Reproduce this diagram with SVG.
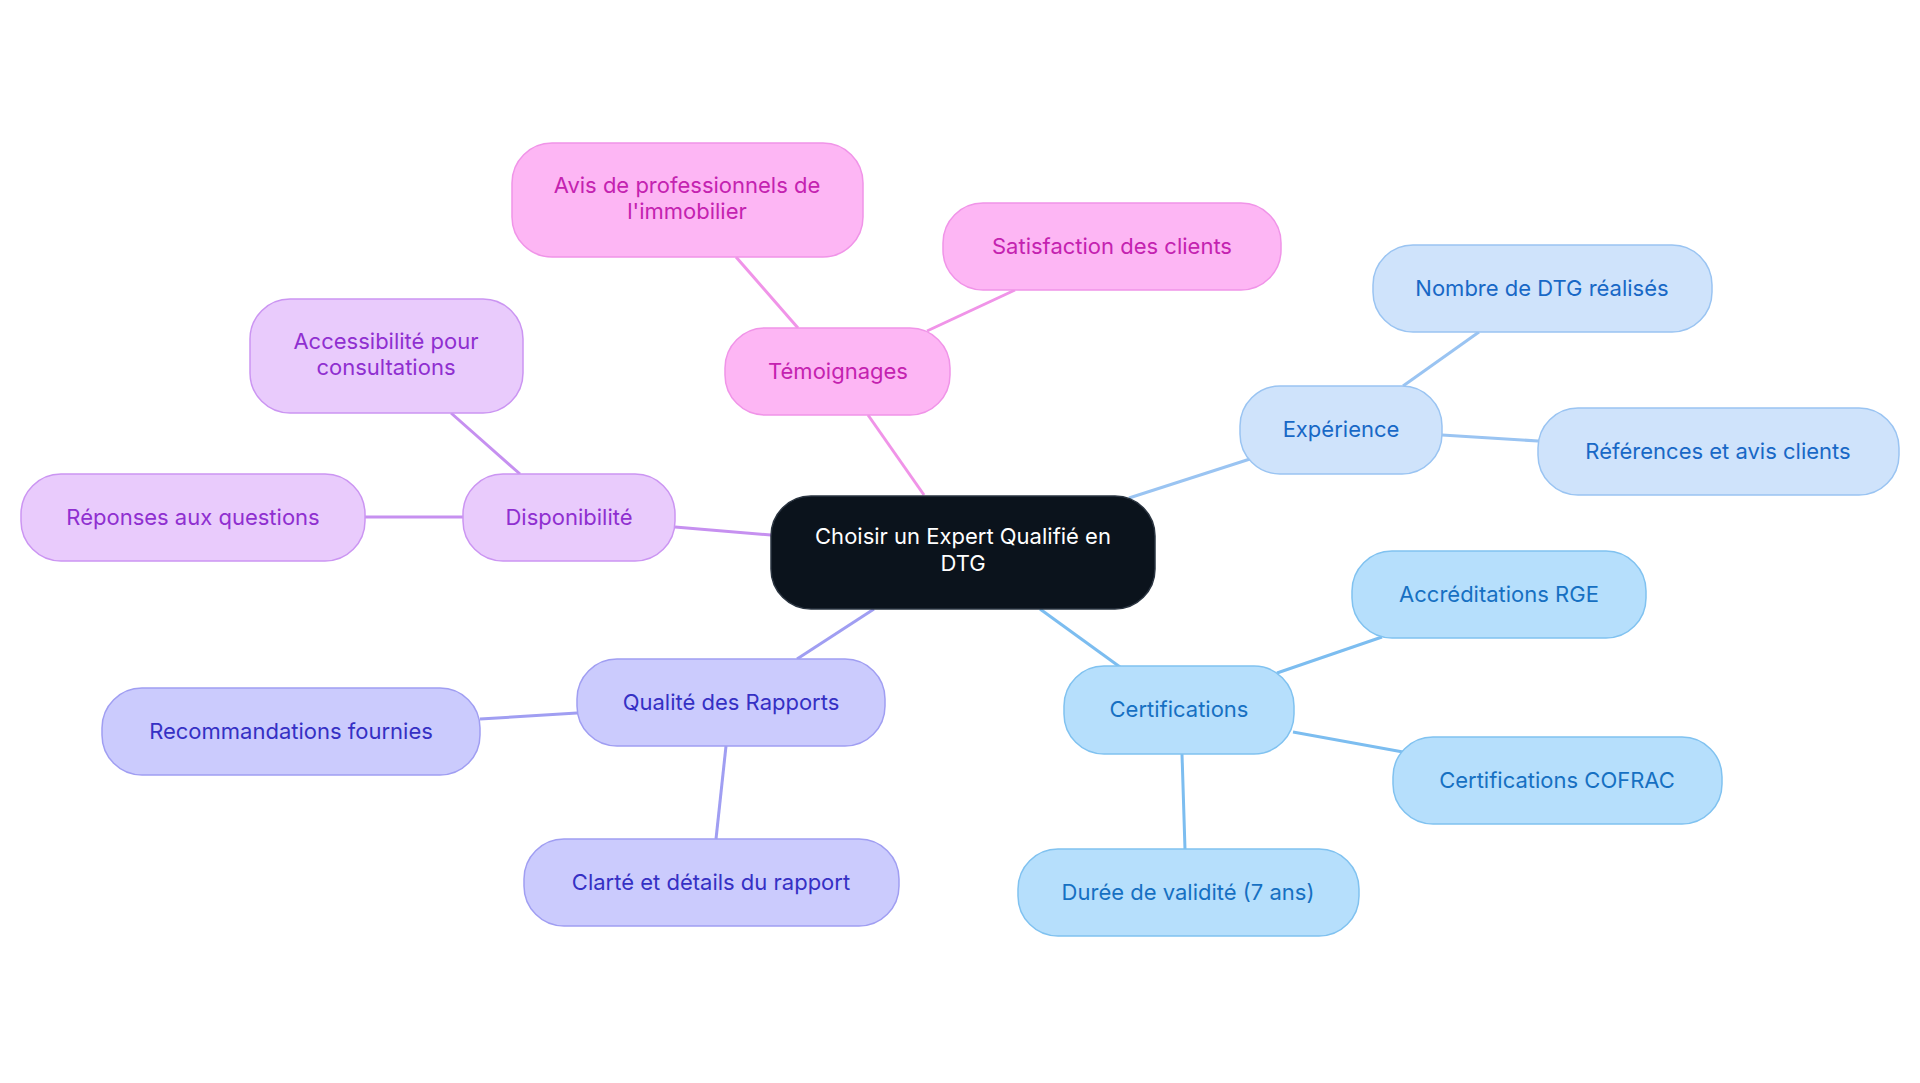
<svg xmlns="http://www.w3.org/2000/svg" width="1920" height="1083" viewBox="0 0 1920 1083">
<style>
text{font-family:Inter,"Open Sans",sans-serif;font-size:22px;text-anchor:middle;dominant-baseline:central}
.e line{stroke-width:3}
.pk rect{fill:#fdb6f4;stroke:#f094e8;stroke-width:1.5}.pk text{fill:#c422b0}
.pu rect{fill:#e9cbfc;stroke:#cb95f2;stroke-width:1.5}.pu text{fill:#8f2fd0}
.in rect{fill:#cbcbfd;stroke:#a09ef2;stroke-width:1.5}.in text{fill:#3530c4}
.lb rect{fill:#cfe3fb;stroke:#9ac4f2;stroke-width:1.5}.lb text{fill:#1868c6}
.bl rect{fill:#b6dffc;stroke:#80c2f0;stroke-width:1.5}.bl text{fill:#1670c2}
</style>
<rect width="1920" height="1083" fill="#fff"/>
<g id="connectors" class="e">
<line x1="924" y1="495" x2="868" y2="415" stroke="#f094e8"/>
<line x1="798" y1="328" x2="736" y2="257" stroke="#f094e8"/>
<line x1="927" y1="331" x2="1015" y2="290" stroke="#f094e8"/>
<line x1="1129" y1="498" x2="1250" y2="459" stroke="#9ac4f2"/>
<line x1="1403" y1="386" x2="1479" y2="332" stroke="#9ac4f2"/>
<line x1="1442" y1="435" x2="1538" y2="441" stroke="#9ac4f2"/>
<line x1="1040" y1="609" x2="1120" y2="667" stroke="#7cbdf0"/>
<line x1="1277" y1="673" x2="1382" y2="637" stroke="#7cbdf0"/>
<line x1="1293" y1="732" x2="1403" y2="752" stroke="#7cbdf0"/>
<line x1="1182" y1="754" x2="1185" y2="849" stroke="#7cbdf0"/>
<line x1="874" y1="609" x2="797" y2="659" stroke="#a09ef2"/>
<line x1="577" y1="713" x2="480" y2="719" stroke="#a09ef2"/>
<line x1="726" y1="746" x2="716" y2="839" stroke="#a09ef2"/>
<line x1="771" y1="535" x2="675" y2="527" stroke="#c690f0"/>
<line x1="520" y1="474" x2="451" y2="413" stroke="#c690f0"/>
<line x1="463" y1="517" x2="365" y2="517" stroke="#c690f0"/>
</g>
<g id="center"><rect x="771" y="496" width="384" height="113" rx="40" fill="#0b131c" stroke="#2a3440" stroke-width="1.5"/><text x="963" y="536" fill="#fff">Choisir un Expert Qualifié en</text><text x="963" y="563" fill="#fff">DTG</text></g>
<g id="temoignages" class="pk"><rect x="725" y="328" width="225" height="87" rx="40"/><text x="838" y="371">Témoignages</text></g>
<g id="avis" class="pk"><rect x="512" y="143" width="351" height="114" rx="40"/><text x="687" y="185">Avis de professionnels de</text><text x="687" y="211">l'immobilier</text></g>
<g id="satisfaction" class="pk"><rect x="943" y="203" width="338" height="87" rx="40"/><text x="1112" y="246">Satisfaction des clients</text></g>
<g id="experience" class="lb"><rect x="1240" y="386" width="202" height="88" rx="40"/><text x="1341" y="429">Expérience</text></g>
<g id="nombre" class="lb"><rect x="1373" y="245" width="339" height="87" rx="40"/><text x="1542" y="288">Nombre de DTG réalisés</text></g>
<g id="references" class="lb"><rect x="1538" y="408" width="361" height="87" rx="40"/><text x="1718" y="451">Références et avis clients</text></g>
<g id="certifications" class="bl"><rect x="1064" y="666" width="230" height="88" rx="40"/><text x="1179" y="709">Certifications</text></g>
<g id="rge" class="bl"><rect x="1352" y="551" width="294" height="87" rx="40"/><text x="1499" y="594">Accréditations RGE</text></g>
<g id="cofrac" class="bl"><rect x="1393" y="737" width="329" height="87" rx="40"/><text x="1557" y="780">Certifications COFRAC</text></g>
<g id="duree" class="bl"><rect x="1018" y="849" width="341" height="87" rx="40"/><text x="1188" y="892">Durée de validité (7 ans)</text></g>
<g id="qualite" class="in"><rect x="577" y="659" width="308" height="87" rx="40"/><text x="731" y="702">Qualité des Rapports</text></g>
<g id="recommandations" class="in"><rect x="102" y="688" width="378" height="87" rx="40"/><text x="291" y="731">Recommandations fournies</text></g>
<g id="clarte" class="in"><rect x="524" y="839" width="375" height="87" rx="40"/><text x="711" y="882">Clarté et détails du rapport</text></g>
<g id="disponibilite" class="pu"><rect x="463" y="474" width="212" height="87" rx="40"/><text x="569" y="517">Disponibilité</text></g>
<g id="accessibilite" class="pu"><rect x="250" y="299" width="273" height="114" rx="40"/><text x="386" y="341">Accessibilité pour</text><text x="386" y="367">consultations</text></g>
<g id="reponses" class="pu"><rect x="21" y="474" width="344" height="87" rx="40"/><text x="193" y="517">Réponses aux questions</text></g>
</svg>
